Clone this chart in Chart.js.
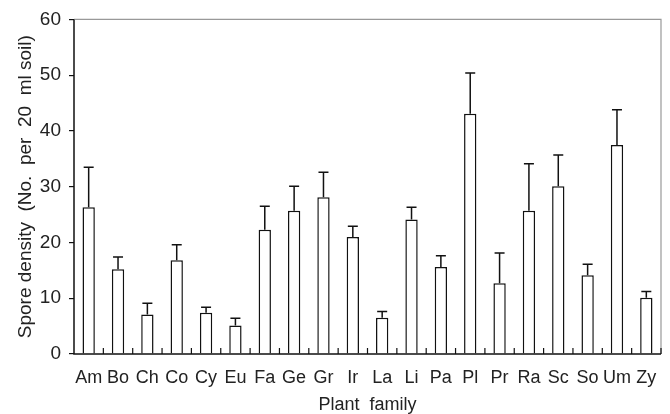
<!DOCTYPE html>
<html>
<head>
<meta charset="utf-8">
<script src="https://cdn.jsdelivr.net/npm/chart.js@4/dist/chart.umd.min.js"></script>
<style>
  html, body { margin: 0; padding: 0; background: #fff; }
  #wrap { width: 670px; height: 414px; }
</style>
</head>
<body>
<div id="wrap"><canvas id="chartSpores"></canvas></div>
<script>
  // plant families
  let families = ['Am', 'Bo', 'Ch', 'Co', 'Cy', 'Eu', 'Fa', 'Ge', 'Gr', 'Ir', 'La', 'Li', 'Pa', 'Pl', 'Pr', 'Ra', 'Sc', 'So', 'Um', 'Zy'];
  // mean spore density
  let sporeMeans = [26.3, 15.2, 7.1, 16.8, 7.4, 5.1, 22.3, 25.7, 28.1, 21.0, 6.5, 24.1, 15.6, 43.1, 12.7, 25.7, 30.1, 14.1, 37.5, 10.1];
  // standard error (upper bar only)
  let sporeErrors = [7.2, 2.2, 2.0, 2.8, 1.0, 1.3, 4.2, 4.4, 4.5, 1.9, 1.1, 2.2, 2.0, 7.3, 5.4, 8.4, 5.6, 2.0, 6.3, 1.1];
  let yTicks = [0, 10, 20, 30, 40, 50, 60];

  const fontFam = '"Liberation Sans", Arial, Helvetica, sans-serif';

  // error bars + frame + inner category ticks
  const extras = {
    id: 'extras',
    afterDatasetsDraw(chart) {
      const c = chart.ctx;
      const x = chart.scales.x, y = chart.scales.y;
      const area = chart.chartArea;
      c.save();
      c.strokeStyle = '#111';
      c.lineWidth = 1.5;
      sporeMeans.forEach((v, i) => {
        const px = x.getPixelForValue(i);
        const y0 = y.getPixelForValue(v);
        const y1 = y.getPixelForValue(v + sporeErrors[i]);
        c.beginPath();
        c.moveTo(px, y0);
        c.lineTo(px, y1);
        c.moveTo(px - 5, y1);
        c.lineTo(px + 5, y1);
        c.stroke();
      });
      // gray top/right frame
      c.strokeStyle = '#999';
      c.lineWidth = 1.2;
      c.beginPath();
      c.moveTo(area.left, area.top);
      c.lineTo(area.right, area.top);
      c.lineTo(area.right, area.bottom);
      c.stroke();
      // black axes
      c.strokeStyle = '#111';
      c.lineWidth = 1.5;
      c.beginPath();
      c.moveTo(area.left, area.top);
      c.lineTo(area.left, area.bottom);
      c.lineTo(area.right, area.bottom);
      c.stroke();
      // small ticks between categories, pointing up
      c.lineWidth = 1.2;
      const step = (area.right - area.left) / families.length;
      for (let i = 1; i <= families.length; i++) {
        const tx = area.left + step * i;
        c.beginPath();
        c.moveTo(tx, area.bottom);
        c.lineTo(tx, area.bottom - 6);
        c.stroke();
      }
      c.restore();
    }
  };

  const ctx = document.getElementById('chartSpores').getContext('2d');

  new Chart(ctx, {
    type: 'bar',
    data: {
      labels: families,
      datasets: [{
        data: sporeMeans,
        backgroundColor: '#fff',
        borderColor: '#111',
        borderWidth: 1.5,
        categoryPercentage: 1,
        barPercentage: 0.42
      }]
    },
    options: {
      responsive: true,
      maintainAspectRatio: false,
      animation: false,
      layout: { padding: { top: 15, right: 9, left: 0, bottom: 0 } },
      plugins: {
        legend: { display: false },
        tooltip: { enabled: false }
      },
      scales: {
        x: {
          grid: { display: false, drawTicks: false },
          border: { display: false },
          ticks: {
            color: '#222',
            padding: 13,
            font: { family: fontFam, size: 18 },
            maxRotation: 0,
            autoSkip: false
          },
          title: {
            display: true,
            text: 'Plant  family',
            color: '#222',
            font: { family: fontFam, size: 18 },
            padding: { top: 0, bottom: -2 }
          },
          afterFit: s => { s.height = 60; }
        },
        y: {
          min: 0,
          max: 60,
          afterBuildTicks: s => { s.ticks = yTicks.map(v => ({ value: v })); },
          grid: { drawOnChartArea: false, tickLength: 5, color: '#111', lineWidth: 1.2 },
          border: { display: false },
          ticks: {
            color: '#222',
            padding: 8,
            font: { family: fontFam, size: 19 }
          },
          title: {
            display: true,
            text: 'Spore density  (No.  per  20  ml soil)',
            color: '#222',
            font: { family: fontFam, size: 19 },
            padding: { top: 14, bottom: 0 }
          },
          afterFit: s => { s.width = 74; }
        }
      }
    },
    plugins: [extras]
  });
</script>
</body>
</html>
